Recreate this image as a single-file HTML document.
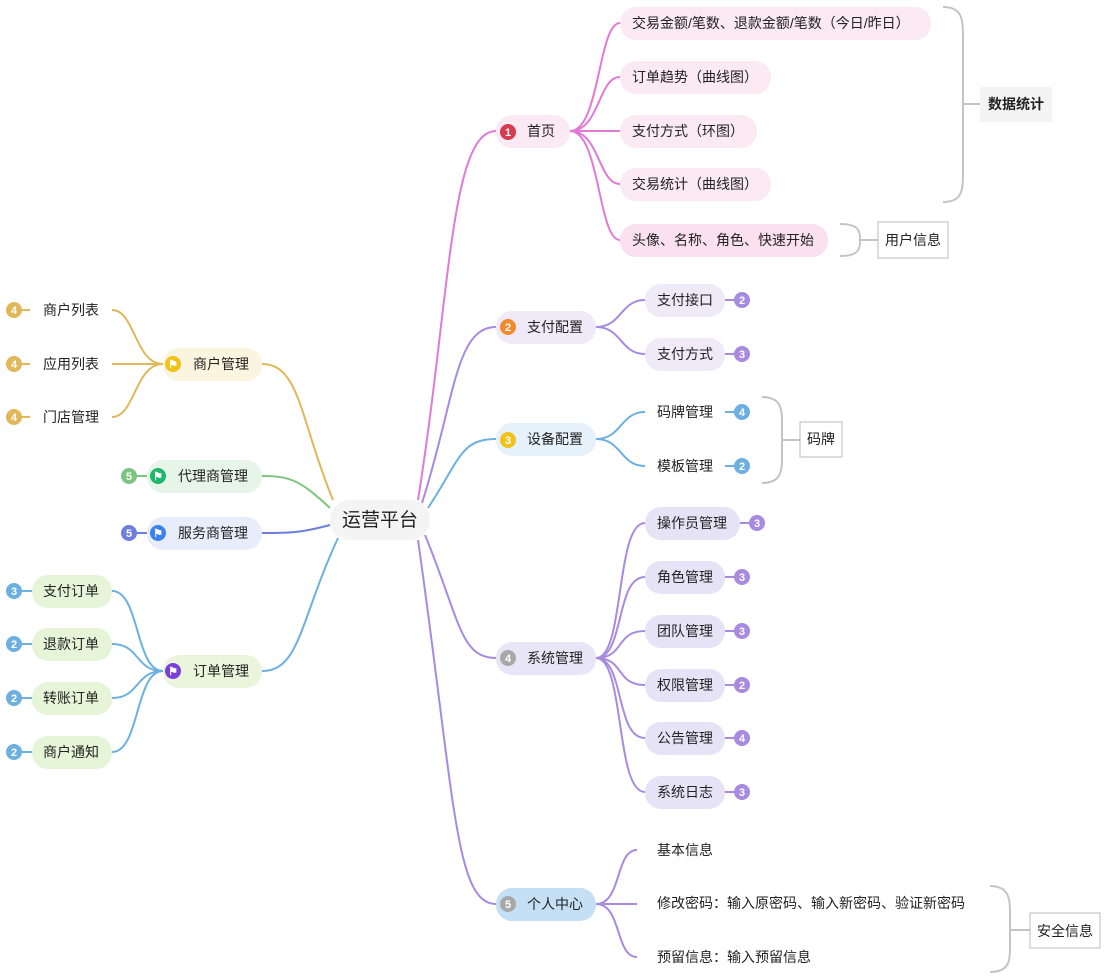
<!DOCTYPE html>
<html><head><meta charset="utf-8"><style>
html,body{margin:0;padding:0;background:#fff;}
svg{display:block;font-family:"Liberation Sans","Noto Sans CJK SC",sans-serif;}
text{font-size:14px;fill:#222;}
.b{font-size:11px;fill:#fff;font-weight:bold;text-anchor:middle;}
</style></head><body>
<svg width="1110" height="980" viewBox="0 0 1110 980" xmlns="http://www.w3.org/2000/svg">
<g fill="none" stroke-width="2">
<path d="M418 500 C450 300,450 131,496 131" stroke="#e07ad6"/>
<path d="M422 503 C455 400,455 327,496 327" stroke="#a88ae0"/>
<path d="M428 508 C460 460,460 439,496 439" stroke="#6db0e0"/>
<path d="M425 535 C460 620,460 658,496 658" stroke="#a88ae0"/>
<path d="M418 540 C455 800,455 904,496 904" stroke="#a88ae0"/>
<path d="M333 500 C300 420,300 364,262 364" stroke="#e0b85a"/>
<path d="M330 508 C300 480,290 476,262 476" stroke="#7cc47f"/>
<path d="M330 525 C300 533,290 533,262 533" stroke="#6c7fdc"/>
<path d="M338 538 C300 620,300 671,262 671" stroke="#6db0e0"/>
<g stroke="#e07ad6">
<path d="M570 131 C600 131,598 23,620 23"/>
<path d="M570 131 C600 131,598 77,620 77"/>
<path d="M570 131 L620 131"/>
<path d="M570 131 C600 131,598 184,620 184"/>
<path d="M570 131 C600 131,598 240,620 240"/>
</g>
<g stroke="#a88ae0">
<path d="M596 327 C622 327,620 300,645 300"/>
<path d="M596 327 C622 327,620 354,645 354"/>
<path d="M725 300 L736 300"/><path d="M725 354 L736 354"/>
</g>
<g stroke="#6db0e0">
<path d="M596 439 C622 439,620 412,645 412"/>
<path d="M596 439 C622 439,620 466,645 466"/>
<path d="M725 412 L736 412"/><path d="M725 466 L736 466"/>
</g>
<g stroke="#a88ae0">
<path d="M596 658 C625 658,615 523,645 523"/>
<path d="M596 658 C625 658,615 577,645 577"/>
<path d="M596 658 C625 658,615 631,645 631"/>
<path d="M596 658 C625 658,615 685,645 685"/>
<path d="M596 658 C625 658,615 738,645 738"/>
<path d="M596 658 C625 658,615 792,645 792"/>
<path d="M740 523 L750 523"/><path d="M725 577 L736 577"/><path d="M725 631 L736 631"/><path d="M725 685 L736 685"/><path d="M725 738 L736 738"/><path d="M725 792 L736 792"/>
<path d="M596 904 C622 904,615 850,637 850"/>
<path d="M596 904 L637 904"/>
<path d="M596 904 C622 904,615 957,637 957"/>
</g>
<g stroke="#e0b85a">
<path d="M163 364 C135 364,135 310,112 310"/>
<path d="M163 364 L112 364"/>
<path d="M163 364 C135 364,135 417,112 417"/>
<path d="M21 310 L30 310"/><path d="M21 364 L30 364"/><path d="M21 417 L30 417"/>
</g>
<path d="M136 476 L147 476" stroke="#7cc47f"/>
<path d="M136 533 L147 533" stroke="#6c7fdc"/>
<g stroke="#6db0e0">
<path d="M163 671 C135 671,140 591,112 591"/>
<path d="M163 671 C135 671,140 644,112 644"/>
<path d="M163 671 C135 671,140 698,112 698"/>
<path d="M163 671 C135 671,140 752,112 752"/>
<path d="M21 591 L32 591"/><path d="M21 644 L32 644"/><path d="M21 698 L32 698"/><path d="M21 752 L32 752"/>
</g>
<g stroke="#c4c4c4">
<path d="M943 7 C963 7,963 20,963 40 L963 170 C963 190,963 202,943 202"/><path d="M963 104 L980 104"/>
<path d="M840 224 C860 224,860 232,860 240 C860 248,860 256,840 256"/><path d="M860 240 L878 240"/>
<path d="M762 397 C782 397,782 410,782 425 L782 455 C782 470,782 483,762 483"/><path d="M782 440 L800 440"/>
<path d="M990 886 C1010 886,1010 900,1010 915 L1010 945 C1010 960,1010 972,990 972"/><path d="M1010 930 L1030 930"/>
</g>
</g>
<rect x="330" y="500" width="100" height="40" rx="20" fill="#f4f4f4"/>
<text x="380" y="526" text-anchor="middle" style="font-size:19px">运营平台</text>
<rect x="496" y="115" width="74" height="33" rx="16" fill="#fbe9f3"/>
<circle cx="508" cy="132" r="8" fill="#d83a52"/><text class="b" x="508" y="136">1</text>
<text x="527" y="136">首页</text>
<g fill="#fbe9f3">
<rect x="620" y="7" width="311" height="33" rx="16"/>
<rect x="620" y="61" width="151" height="33" rx="16"/>
<rect x="620" y="115" width="137" height="33" rx="16"/>
<rect x="620" y="168" width="151" height="33" rx="16"/>
<rect x="620" y="224" width="208" height="33" rx="16" fill="#fbe0ef"/>
</g>
<text x="632" y="28">交易金额/笔数、退款金额/笔数（今日/昨日）</text>
<text x="632" y="82">订单趋势（曲线图）</text>
<text x="632" y="136">支付方式（环图）</text>
<text x="632" y="189">交易统计（曲线图）</text>
<text x="632" y="245">头像、名称、角色、快速开始</text>
<rect x="980" y="87" width="72" height="35" fill="#f4f4f4"/>
<text x="988" y="109" font-weight="bold">数据统计</text>
<rect x="878" y="222" width="70" height="36" fill="#fff" stroke="#bbb"/>
<text x="885" y="245">用户信息</text>
<rect x="496" y="311" width="100" height="33" rx="16" fill="#efe9f8"/>
<circle cx="508" cy="327" r="8" fill="#f08a2c"/><text class="b" x="508" y="331">2</text>
<text x="527" y="332">支付配置</text>
<rect x="645" y="284" width="80" height="33" rx="16" fill="#efe9f8"/>
<rect x="645" y="338" width="80" height="33" rx="16" fill="#efe9f8"/>
<text x="657" y="305">支付接口</text><text x="657" y="359">支付方式</text>
<circle cx="742" cy="300" r="8" fill="#a88ae0"/><text class="b" x="742" y="304">2</text>
<circle cx="742" cy="354" r="8" fill="#a88ae0"/><text class="b" x="742" y="358">3</text>
<rect x="496" y="423" width="100" height="33" rx="16" fill="#e6f2fb"/>
<circle cx="508" cy="440" r="8" fill="#f2c21b"/><text class="b" x="508" y="444">3</text>
<text x="527" y="444">设备配置</text>
<text x="657" y="417">码牌管理</text><text x="657" y="471">模板管理</text>
<circle cx="742" cy="412" r="8" fill="#6db0e0"/><text class="b" x="742" y="416">4</text>
<circle cx="742" cy="466" r="8" fill="#6db0e0"/><text class="b" x="742" y="470">2</text>
<rect x="800" y="422" width="42" height="35" fill="#fff" stroke="#bbb"/>
<text x="807" y="444">码牌</text>
<rect x="496" y="642" width="100" height="33" rx="16" fill="#e8e6f6"/>
<circle cx="508" cy="658" r="8" fill="#a8a8a8"/><text class="b" x="508" y="662">4</text>
<text x="527" y="663">系统管理</text>
<g fill="#e6e3f7">
<rect x="645" y="507" width="95" height="33" rx="16"/>
<rect x="645" y="561" width="80" height="33" rx="16"/>
<rect x="645" y="615" width="80" height="33" rx="16"/>
<rect x="645" y="669" width="80" height="33" rx="16"/>
<rect x="645" y="722" width="80" height="33" rx="16"/>
<rect x="645" y="776" width="80" height="33" rx="16"/>
</g>
<text x="657" y="528">操作员管理</text><text x="657" y="582">角色管理</text><text x="657" y="636">团队管理</text>
<text x="657" y="690">权限管理</text><text x="657" y="743">公告管理</text><text x="657" y="797">系统日志</text>
<g fill="#a88ae0">
<circle cx="757" cy="523" r="8"/><circle cx="742" cy="577" r="8"/><circle cx="742" cy="631" r="8"/>
<circle cx="742" cy="685" r="8"/><circle cx="742" cy="738" r="8"/><circle cx="742" cy="792" r="8"/>
</g>
<text class="b" x="757" y="527">3</text><text class="b" x="742" y="581">3</text><text class="b" x="742" y="635">3</text>
<text class="b" x="742" y="689">2</text><text class="b" x="742" y="742">4</text><text class="b" x="742" y="796">3</text>
<rect x="496" y="888" width="100" height="33" rx="16" fill="#c5e0f5"/>
<circle cx="508" cy="904" r="8" fill="#a8a8a8"/><text class="b" x="508" y="908">5</text>
<text x="527" y="909">个人中心</text>
<text x="657" y="855">基本信息</text>
<text x="657" y="908">修改密码：输入原密码、输入新密码、验证新密码</text>
<text x="657" y="962">预留信息：输入预留信息</text>
<rect x="1030" y="913" width="70" height="35" fill="#fff" stroke="#bbb"/>
<text x="1037" y="936">安全信息</text>
<rect x="163" y="348" width="99" height="33" rx="16" fill="#fbf4df"/>
<circle cx="173" cy="364" r="8" fill="#f2c21b"/><text class="b" x="173" y="368">⚑</text>
<text x="193" y="369">商户管理</text>
<text x="43" y="315">商户列表</text><text x="43" y="369">应用列表</text><text x="43" y="422">门店管理</text>
<g fill="#e0b85a"><circle cx="14" cy="310" r="8"/><circle cx="14" cy="364" r="8"/><circle cx="14" cy="417" r="8"/></g>
<text class="b" x="14" y="314">4</text><text class="b" x="14" y="368">4</text><text class="b" x="14" y="421">4</text>
<rect x="147" y="460" width="115" height="33" rx="16" fill="#e6f5e8"/>
<circle cx="158" cy="476" r="8" fill="#1fb86a"/><text class="b" x="158" y="480">⚑</text>
<text x="178" y="481">代理商管理</text>
<circle cx="129" cy="476" r="8" fill="#7cc47f"/><text class="b" x="129" y="480">5</text>
<rect x="147" y="517" width="115" height="33" rx="16" fill="#e8edfb"/>
<circle cx="158" cy="533" r="8" fill="#3b82f0"/><text class="b" x="158" y="537">⚑</text>
<text x="178" y="538">服务商管理</text>
<circle cx="129" cy="533" r="8" fill="#6c7fdc"/><text class="b" x="129" y="537">5</text>
<rect x="163" y="655" width="99" height="33" rx="16" fill="#eaf5dc"/>
<circle cx="173" cy="671" r="8" fill="#7a3fd8"/><text class="b" x="173" y="675">⚑</text>
<text x="193" y="676">订单管理</text>
<g fill="#e6f5d8">
<rect x="32" y="575" width="80" height="33" rx="16"/><rect x="32" y="628" width="80" height="33" rx="16"/>
<rect x="32" y="682" width="80" height="33" rx="16"/><rect x="32" y="736" width="80" height="33" rx="16"/>
</g>
<text x="43" y="596">支付订单</text><text x="43" y="649">退款订单</text><text x="43" y="703">转账订单</text><text x="43" y="757">商户通知</text>
<g fill="#6db0e0"><circle cx="14" cy="591" r="8"/><circle cx="14" cy="644" r="8"/><circle cx="14" cy="698" r="8"/><circle cx="14" cy="752" r="8"/></g>
<text class="b" x="14" y="595">3</text><text class="b" x="14" y="648">2</text><text class="b" x="14" y="702">2</text><text class="b" x="14" y="756">2</text>
</svg>
</body></html>
